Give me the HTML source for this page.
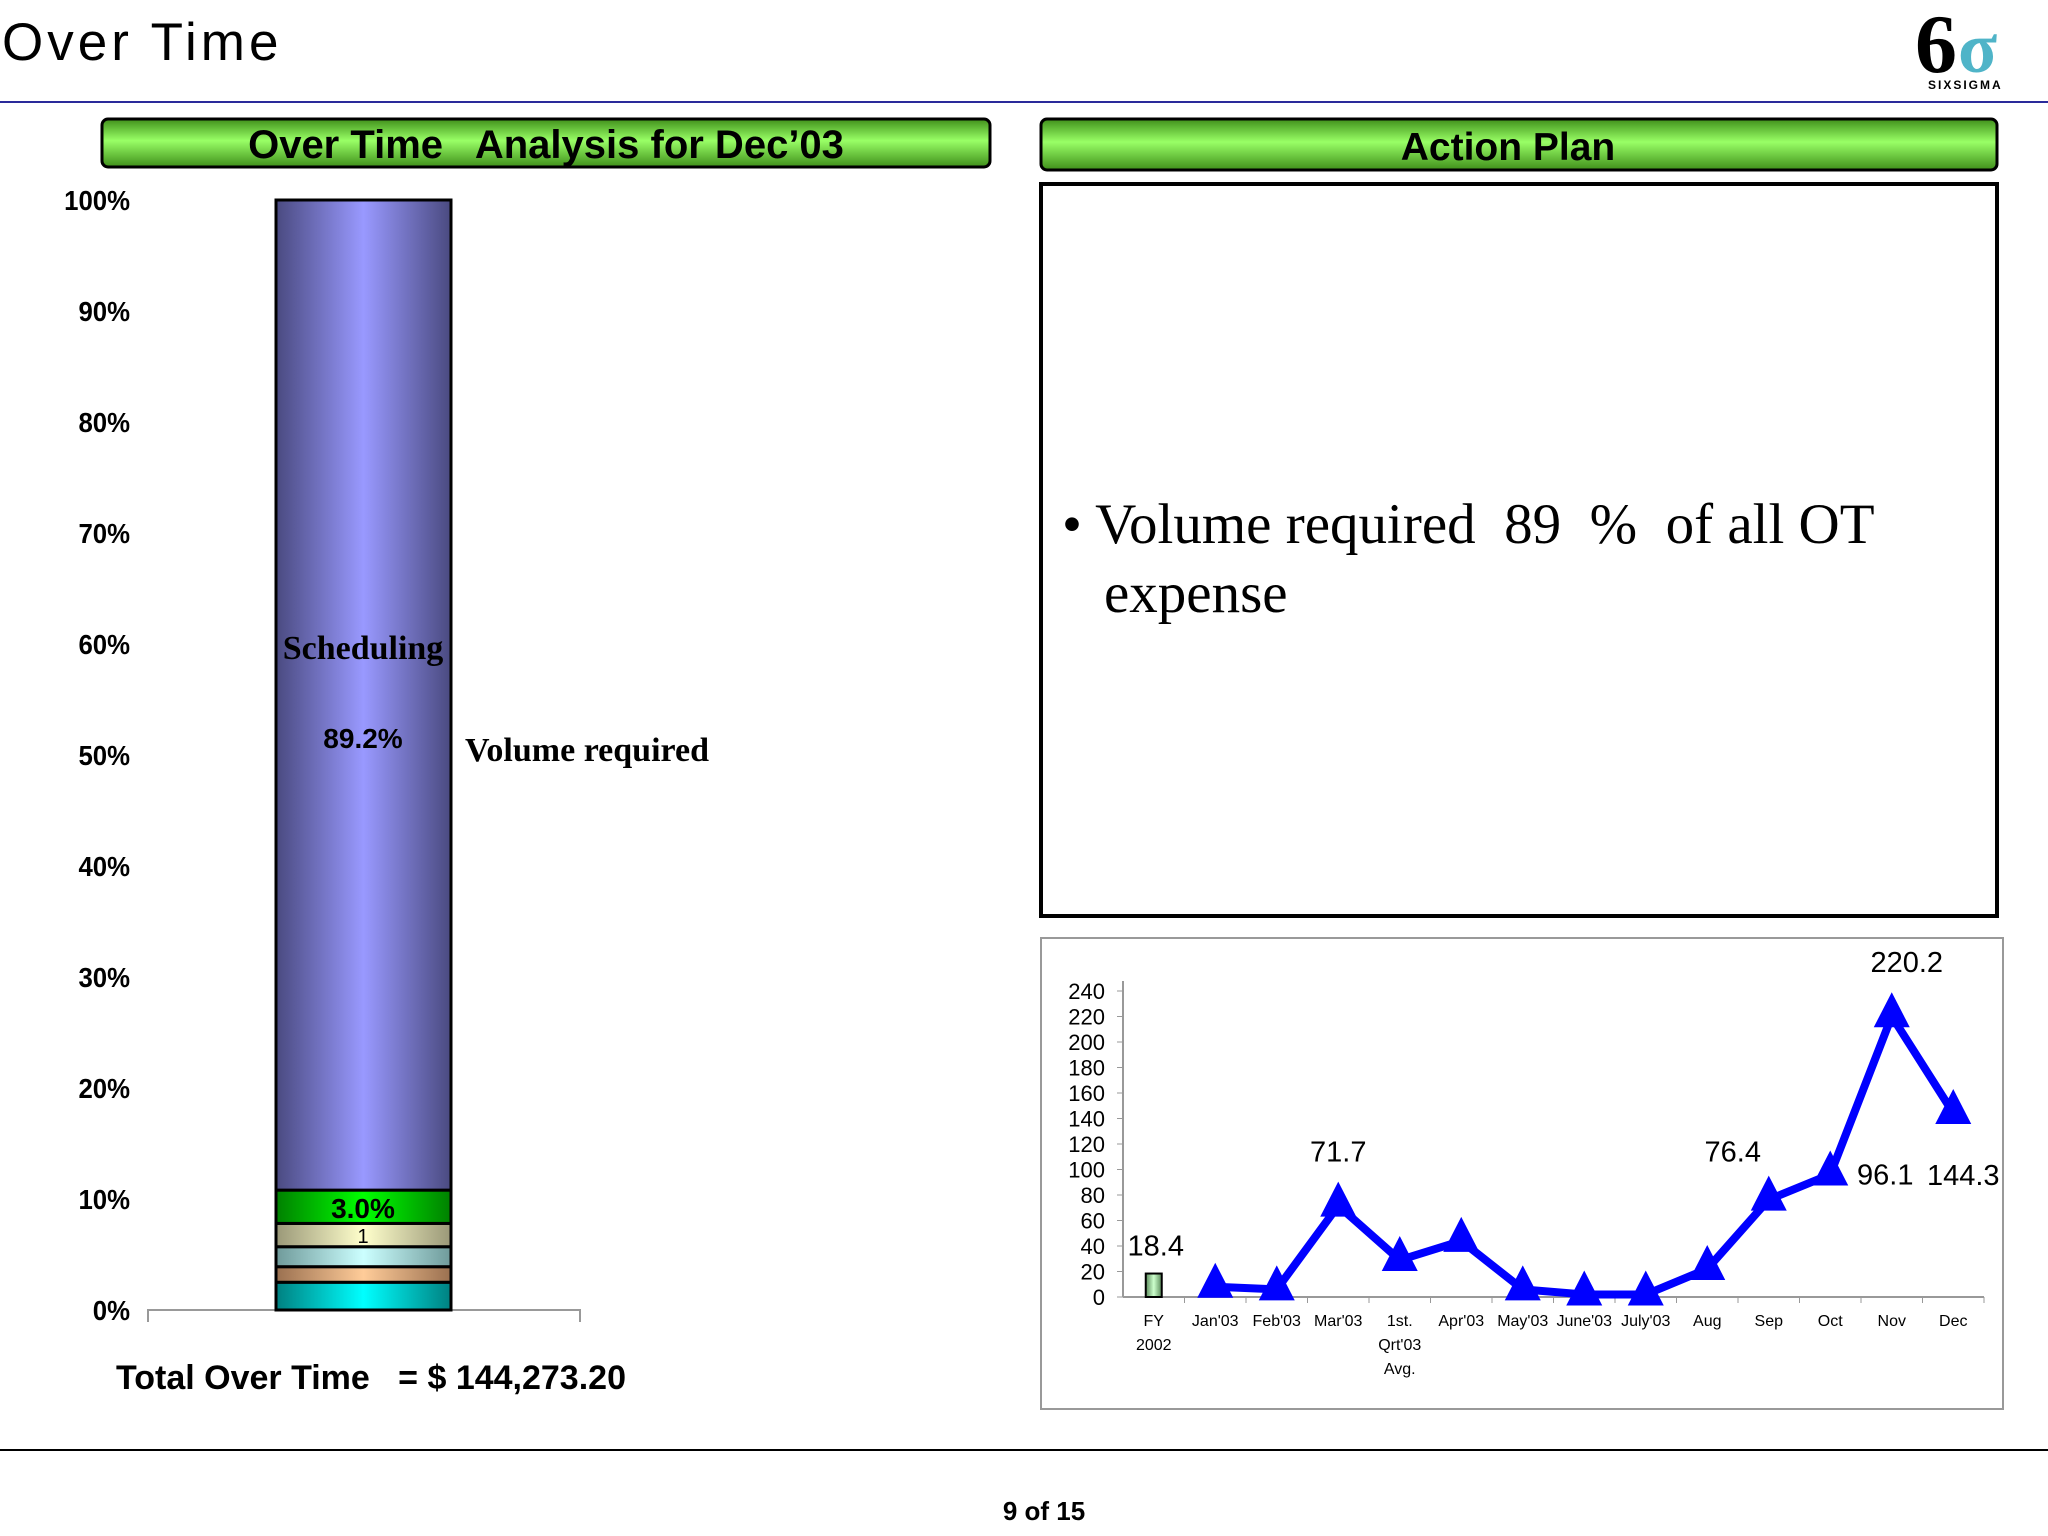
<!DOCTYPE html>
<html><head><meta charset="utf-8"><style>
html,body{margin:0;padding:0;background:#fff;}
svg{display:block;}
</style></head><body>
<svg id="page" width="2048" height="1536" viewBox="0 0 2048 1536" xmlns="http://www.w3.org/2000/svg" font-family="Liberation Sans, sans-serif">
<defs>
<linearGradient id="hdr" x1="0" y1="0" x2="0" y2="1">
<stop offset="0" stop-color="#3f8f1a"/><stop offset="0.45" stop-color="#99ff66"/><stop offset="1" stop-color="#3f8f1a"/></linearGradient>
<linearGradient id="gPurple" x1="0" x2="1"><stop offset="0" stop-color="#4a4a80"/><stop offset="0.5" stop-color="#9999ff"/><stop offset="1" stop-color="#4a4a80"/></linearGradient>
<linearGradient id="gGreen" x1="0" x2="1"><stop offset="0" stop-color="#008000"/><stop offset="0.5" stop-color="#00ff00"/><stop offset="1" stop-color="#008000"/></linearGradient>
<linearGradient id="gBeige" x1="0" x2="1"><stop offset="0" stop-color="#9a9878"/><stop offset="0.5" stop-color="#ffffcc"/><stop offset="1" stop-color="#9a9878"/></linearGradient>
<linearGradient id="gLblue" x1="0" x2="1"><stop offset="0" stop-color="#6f9a9a"/><stop offset="0.5" stop-color="#ccffff"/><stop offset="1" stop-color="#6f9a9a"/></linearGradient>
<linearGradient id="gOrange" x1="0" x2="1"><stop offset="0" stop-color="#9a7050"/><stop offset="0.5" stop-color="#ffcc99"/><stop offset="1" stop-color="#9a7050"/></linearGradient>
<linearGradient id="gCyan" x1="0" x2="1"><stop offset="0" stop-color="#008080"/><stop offset="0.5" stop-color="#00ffff"/><stop offset="1" stop-color="#008080"/></linearGradient>
<linearGradient id="gFY" x1="0" x2="1"><stop offset="0" stop-color="#5a8a5a"/><stop offset="0.5" stop-color="#ccffcc"/><stop offset="1" stop-color="#5a8a5a"/></linearGradient>
</defs>

<text x="2" y="60" font-size="53" letter-spacing="4">Over Time</text>
<line x1="0" y1="102" x2="2048" y2="102" stroke="#2a2a9a" stroke-width="2"/>
<g>
<text x="1915" y="72" font-size="84" font-weight="bold" font-family="Liberation Serif, serif" fill="#000">6</text>
<text x="1958" y="72" font-size="72" font-weight="bold" font-family="Liberation Serif, serif" fill="#4fb4c8">σ</text>
<text x="1928" y="89" font-size="12" font-weight="bold" letter-spacing="2">SIXSIGMA</text>
</g>

<rect x="102" y="119" width="888" height="48" rx="6" fill="url(#hdr)" stroke="#000" stroke-width="3"/>
<text x="546" y="158" font-size="40" font-weight="bold" text-anchor="middle" xml:space="preserve">Over Time   Analysis for Dec’03</text>
<rect x="1041" y="119" width="956" height="51" rx="6" fill="url(#hdr)" stroke="#000" stroke-width="3"/>
<text x="1508" y="160" font-size="39" font-weight="bold" text-anchor="middle">Action Plan</text>

<rect x="1041" y="184" width="956" height="732" fill="#fff" stroke="#000" stroke-width="4"/>
<text x="1062" y="543" font-size="57" font-family="Liberation Serif, serif" xml:space="preserve">• Volume required  89  %  of all OT</text>
<text x="1104" y="612" font-size="57" font-family="Liberation Serif, serif">expense</text>

<g id="stack"></g>
<text x="116" y="1389" font-size="34" font-weight="bold" xml:space="preserve">Total Over Time   = $ 144,273.20</text>

<rect x="1041" y="938" width="962" height="471" fill="#fff" stroke="#999" stroke-width="2"/>
<g id="line"></g>

<line x1="0" y1="1450" x2="2048" y2="1450" stroke="#000" stroke-width="2"/>
<text x="1044" y="1520" font-size="26" font-weight="bold" text-anchor="middle">9 of 15</text>
</svg>
<script>
const NS='http://www.w3.org/2000/svg';
// stacked bar data (% share, bottom to top)
const segNames=['cyan','orange','light-blue','beige','green','scheduling'];
const segValues=[2.5,1.4,1.8,2.1,3.0,89.2];
const pctTicks=[0,10,20,30,40,50,60,70,80,90,100];
// line chart data
const cats=['FY|2002','Jan\'03','Feb\'03','Mar\'03','1st.|Qrt\'03|Avg.','Apr\'03','May\'03','June\'03','July\'03','Aug','Sep','Oct','Nov','Dec'];
const fyValue=18.4;
const lineValues=[null,8,6,71.7,29,44,6,2,2,22,76.4,96.1,220.2,144.3];
const yTicks=[0,20,40,60,80,100,120,140,160,180,200,220,240];

function mk(tag,attrs,parent,text){const e=document.createElementNS(NS,tag);for(const k in attrs)e.setAttribute(k,attrs[k]);if(text!==undefined)e.textContent=text;parent.appendChild(e);return e;}

// stacked
const st=document.getElementById('stack');
const sy=v=>1310-v*11.1;
const fills=['url(#gCyan)','url(#gOrange)','url(#gLblue)','url(#gBeige)','url(#gGreen)','url(#gPurple)'];
pctTicks.forEach(t=>{const e=mk('text',{x:130,y:sy(t)+10,'font-size':28,'font-weight':'bold','text-anchor':'end',transform:`translate(130 0) scale(0.92 1) translate(-130 0)`},st,t+'%');

});
mk('polyline',{points:'148,1322 148,1310 580,1310 580,1322',fill:'none',stroke:'#999','stroke-width':2},st);
let cum=0;
segValues.forEach((v,i)=>{const r=mk('rect',{x:276,y:sy(cum+v),width:175,height:v*11.1,fill:fills[i],stroke:'#000','stroke-width':3},st);

cum+=v;});
const g3=segValues.slice(0,4).reduce((a,b)=>a+b,0);
mk('text',{x:363,y:sy(g3+segValues[4]/2)+11,'font-size':28,'font-weight':'bold','text-anchor':'middle'},st,segValues[4].toFixed(1)+'%');
mk('text',{x:363,y:sy(g3-segValues[3]/2)+8,'font-size':20,'text-anchor':'middle'},st,'1');
mk('text',{x:363,y:748,'font-size':28,'font-weight':'bold','text-anchor':'middle'},st,segValues[5].toFixed(1)+'%');
mk('text',{x:363,y:659,'font-size':34,'font-weight':'bold','font-family':'Liberation Serif, serif','text-anchor':'middle'},st,'Scheduling');
mk('text',{x:465,y:761,'font-size':34,'font-weight':'bold','font-family':'Liberation Serif, serif'},st,'Volume required');

// line chart
const lc=document.getElementById('line');
const x0=1123,x1=1984,yb=1297,yt=991;
const slot=(x1-x0)/cats.length;
const X=i=>x0+slot*(i+0.5);
const Y=v=>yb-(v/240)*(yb-yt);
mk('line',{x1:x0,y1:yt-10,x2:x0,y2:yb,stroke:'#999','stroke-width':2},lc);
mk('line',{x1:x0,y1:yb,x2:x1,y2:yb,stroke:'#999','stroke-width':2},lc);
yTicks.forEach(t=>{mk('line',{x1:x0-6,y1:Y(t),x2:x0,y2:Y(t),stroke:'#999'},lc);
const e=mk('text',{x:x0-18,y:Y(t)+8,'font-size':22,'text-anchor':'end'},lc,t);

});
cats.forEach((c,i)=>{mk('line',{x1:x0+slot*(i+1),y1:yb,x2:x0+slot*(i+1),y2:yb+6,stroke:'#999'},lc);
c.split('|').forEach((p,j)=>{const e=mk('text',{x:X(i),y:yb+29+j*24,'font-size':16,'text-anchor':'middle'},lc,p);

});});
const fb=mk('rect',{x:X(0)-8,y:Y(fyValue),width:16,height:yb-Y(fyValue),fill:'url(#gFY)',stroke:'#000','stroke-width':2},lc);


mk('text',{x:X(0)+2,y:Y(fyValue)-18,'font-size':29,'text-anchor':'middle'},lc,fyValue);
const pts=[];lineValues.forEach((v,i)=>{if(v!==null)pts.push(X(i)+','+Y(v));});
const pl=mk('polyline',{points:pts.join(' '),fill:'none',stroke:'#0000ff','stroke-width':8,'stroke-linejoin':'round'},lc);


lineValues.forEach((v,i)=>{if(v===null)return;const x=X(i),y=Y(v);
const m=mk('polygon',{points:`${x},${y-24} ${x-18},${y+11} ${x+18},${y+11}`,fill:'#0000ff'},lc);

});
const labelIdx=[3,10,11,12,13];
const labelOff={3:[0,-44],10:[-36,-38],11:[55,10],12:[15,-44],13:[10,72]};
labelIdx.forEach(i=>{const o=labelOff[i];const e=mk('text',{x:X(i)+o[0],y:Y(lineValues[i])+o[1],'font-size':29,'text-anchor':'middle'},lc,lineValues[i]);

});
</script>
</body></html>
